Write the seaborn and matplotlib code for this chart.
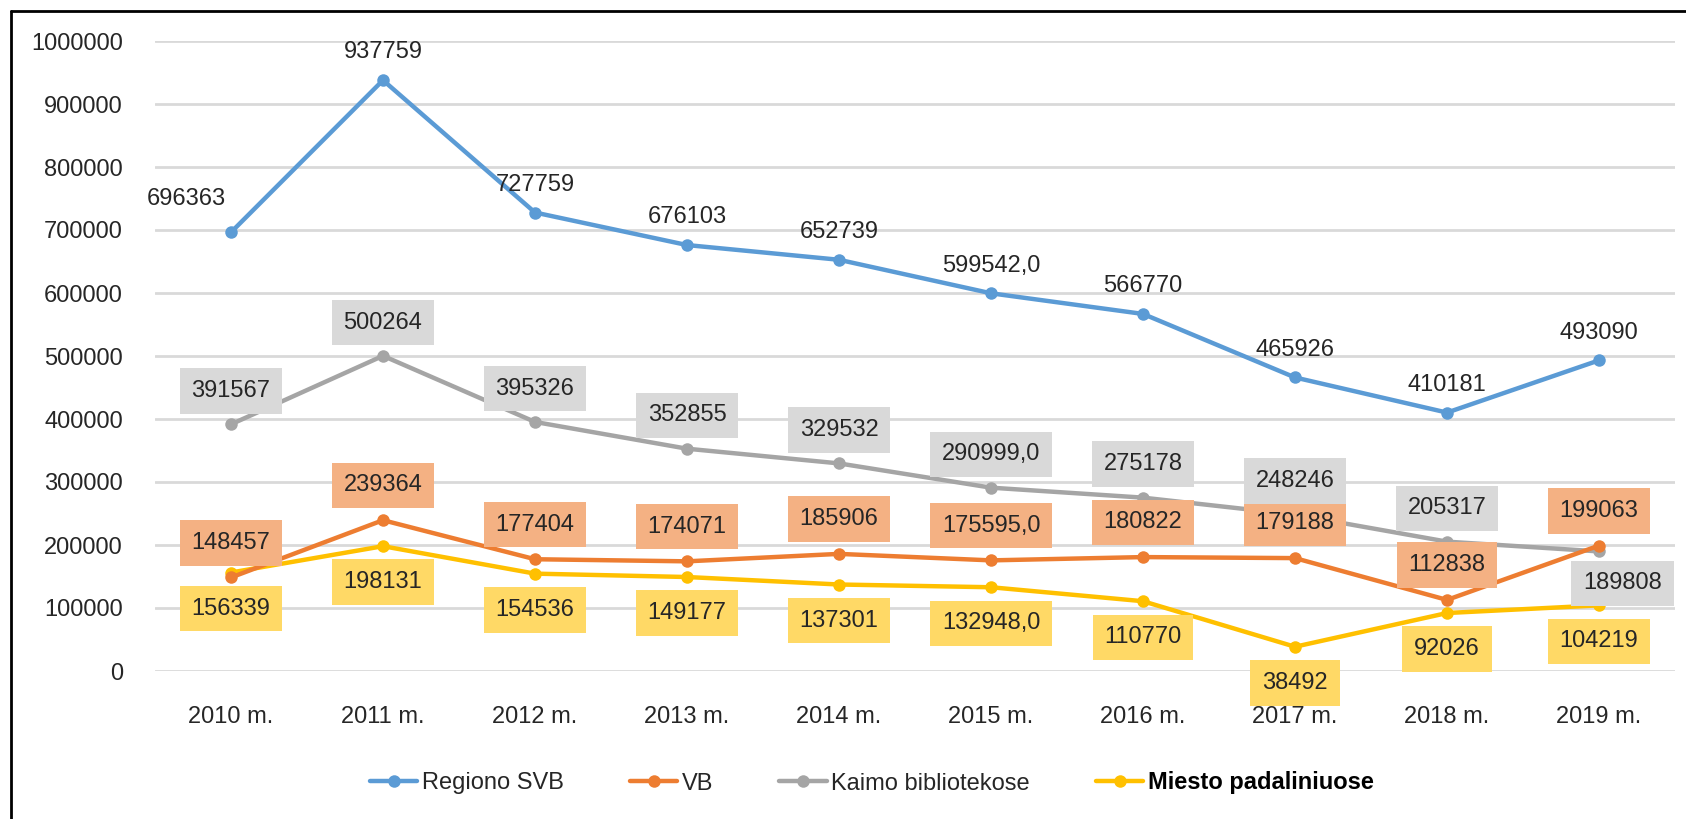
import matplotlib.pyplot as plt
import matplotlib.lines as mlines
import pandas as pd
import seaborn as sns

# Data
years = [2010, 2011, 2012, 2013, 2014, 2015, 2016, 2017, 2018, 2019]
year_labels = [f"{y} m." for y in years]
regiono_svb = [696363, 937759, 727759, 676103, 652739, 599542, 566770, 465926, 410181, 493090]
vb = [148457, 239364, 177404, 174071, 185906, 175595, 180822, 179188, 112838, 199063]
kaimo = [391567, 500264, 395326, 352855, 329532, 290999, 275178, 248246, 205317, 189808]
miesto = [156339, 198131, 154536, 149177, 137301, 132948, 110770, 38492, 92026, 104219]
series_names = ["Regiono SVB", "VB", "Kaimo bibliotekose", "Miesto padaliniuose"]
y_ticks = [0, 100000, 200000, 300000, 400000, 500000, 600000, 700000, 800000, 900000, 1000000]

sns.set_style("white")
plt.rcParams['font.family'] = ['Liberation Sans', 'DejaVu Sans']

colors = {"Regiono SVB": "#5b9bd5", "VB": "#ed7d31",
          "Kaimo bibliotekose": "#a5a5a5", "Miesto padaliniuose": "#ffc000"}
box_colors = {"Regiono SVB": None, "VB": "#f4b183",
              "Kaimo bibliotekose": "#d9d9d9", "Miesto padaliniuose": "#ffd966"}
text_col = "#262626"

df = pd.DataFrame({"pos": list(range(len(years))) * 4,
                   "value": regiono_svb + vb + kaimo + miesto,
                   "series": sum([[s] * len(years) for s in series_names], [])})

fig = plt.figure(figsize=(16.86, 8.19), dpi=100)
ax = fig.add_axes([155 / 1686, 148 / 819, 1520 / 1686, 630 / 819])

# draw order: Miesto at the back, Regiono on top
for name in ["Miesto padaliniuose", "Kaimo bibliotekose", "VB", "Regiono SVB"]:
    d = df[df.series == name]
    sns.lineplot(data=d, x="pos", y="value", ax=ax, color=colors[name], linewidth=3.2,
                 marker="o", markersize=9, markeredgewidth=0, legend=False)

ax.set_xlim(-0.5, 9.5)
ax.set_ylim(0, 1000000)
ax.set_yticks(y_ticks)
ax.set_yticklabels([str(t) for t in y_ticks])
ax.set_xticks(range(len(years)))
ax.set_xticklabels(year_labels)
ax.set_xlabel("")
ax.set_ylabel("")
ax.grid(axis="y", color="#d9d9d9", linewidth=2)
ax.set_axisbelow(True)
for sp in ax.spines.values():
    sp.set_visible(False)
ax.tick_params(axis="y", length=0, pad=23, labelsize=17, labelcolor=text_col)
ax.tick_params(axis="x", length=0, pad=25, labelsize=17, labelcolor=text_col)


def fmt(i, v):
    return f"{v},0" if years[i] == 2015 else str(v)


# default label offsets (points), with a couple of manual tweaks as in the original
offsets = {"Regiono SVB": (0, 20), "VB": (0, 25),
           "Kaimo bibliotekose": (0, 24), "Miesto padaliniuose": (0, -26)}
special = {("Regiono SVB", 0): (-32, 24), ("Kaimo bibliotekose", 9): (17, -23)}

for name, vals in zip(series_names, [regiono_svb, vb, kaimo, miesto]):
    for i, v in enumerate(vals):
        dx, dy = special.get((name, i), offsets[name])
        bbox = None
        if box_colors[name]:
            bbox = dict(boxstyle="square,pad=0.5", fc=box_colors[name], ec="none")
        ax.annotate(fmt(i, v), (i, v), xytext=(dx, dy), textcoords="offset points",
                    ha="center", va="center", fontsize=17, color=text_col,
                    bbox=bbox, zorder=5)

# legend
handles = [mlines.Line2D([], [], color=colors[n], linewidth=3.2, marker="o",
                         markersize=9, markeredgewidth=0) for n in series_names]
leg = fig.legend(handles, series_names, loc="center", bbox_to_anchor=(872 / 1686, 1 - 783 / 819),
                 ncol=4, frameon=False, fontsize=17, handlelength=2.0,
                 columnspacing=2.8, handletextpad=0.2)
for t in leg.get_texts():
    t.set_color(text_col)
leg.get_texts()[3].set_fontweight("bold")
leg.get_texts()[3].set_color("black")

# frame lines on the left and top
fig.add_artist(mlines.Line2D([11 / 1686, 11 / 1686], [0, 1 - 11 / 819], color="black", linewidth=2))
fig.add_artist(mlines.Line2D([11 / 1686, 1], [1 - 11 / 819, 1 - 11 / 819], color="black", linewidth=2))

plt.savefig("out.png", dpi=100)
